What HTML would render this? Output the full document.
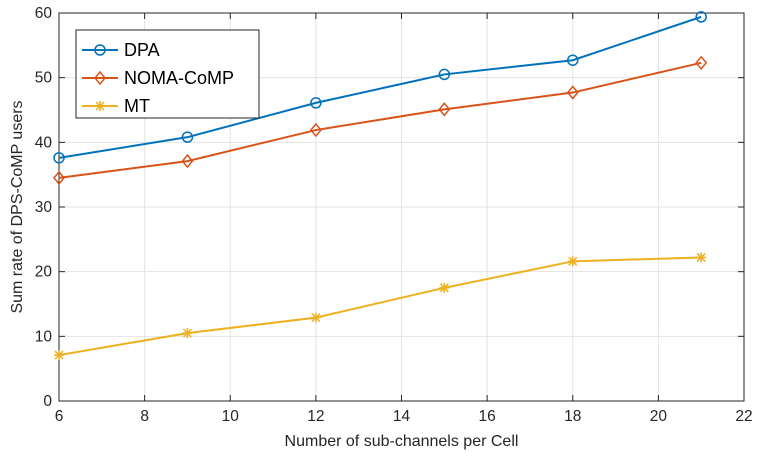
<!DOCTYPE html>
<html><head><meta charset="utf-8"><style>body{margin:0;background:#fff}svg{display:block;font-family:"Liberation Sans",sans-serif}</style></head>
<body>
<svg id="c" width="759" height="460"></svg>
<script>
const xTicks=[6,8,10,12,14,16,18,20,22];
const yTicks=[0,10,20,30,40,50,60];
const xs=[6,9,12,15,18,21];
const dpa=[37.6,40.8,46.1,50.5,52.7,59.4];
const noma=[34.5,37.1,41.9,45.1,47.7,52.3];
const mt=[7.1,10.5,12.9,17.5,21.6,22.2];
const L=59,R=744,T=13,B=401;
const sx=v=>L+(v-6)/(22-6)*(R-L);
const sy=v=>B-v/60*(B-T);
const svg=document.getElementById('c');const NS='http://www.w3.org/2000/svg';
function el(t,a,p){const e=document.createElementNS(NS,t);for(const k in a)e.setAttribute(k,a[k]);(p||svg).appendChild(e);return e;}
let g=el('g',{});


xTicks.forEach(v=>{el('line',{x1:sx(v),x2:sx(v),y1:T,y2:B,stroke:'#e3e3e3'},g);
 const t=el('text',{x:sx(v),y:B+20,'text-anchor':'middle','font-size':15.5,fill:'#262626'});t.textContent=v;
 
 
 el('line',{x1:sx(v),x2:sx(v),y1:B,y2:B-6,stroke:'#262626'});el('line',{x1:sx(v),x2:sx(v),y1:T,y2:T+6,stroke:'#262626'});});
yTicks.forEach(v=>{el('line',{x1:L,x2:R,y1:sy(v),y2:sy(v),stroke:'#e3e3e3'},g);
 const t=el('text',{x:L-7,y:sy(v)+5,'text-anchor':'end','font-size':15.5,fill:'#262626'});t.textContent=v;
 
 
 el('line',{x1:L,x2:L+6,y1:sy(v),y2:sy(v),stroke:'#262626'});el('line',{x1:R,x2:R-6,y1:sy(v),y2:sy(v),stroke:'#262626'});});
const ax=el('rect',{x:L,y:T,width:R-L,height:B-T,fill:'none',stroke:'#262626','stroke-width':1});


let t=el('text',{x:(L+R)/2,y:446,'text-anchor':'middle','font-size':16,fill:'#262626'});t.textContent='Number of sub-channels per Cell';


t=el('text',{x:0,y:0,transform:`translate(22,${(T+B)/2}) rotate(-90)`,'text-anchor':'middle','font-size':16,fill:'#262626'});t.textContent='Sum rate of DPS-CoMP users';


function marker(type,x,y,c,p){
 if(type==='o')el('circle',{cx:x,cy:y,r:5,fill:'none',stroke:c,'stroke-width':1.5},p);
 else if(type==='d')el('polygon',{points:`${x},${y-6} ${x+5},${y} ${x},${y+6} ${x-5},${y}`,fill:'none',stroke:c,'stroke-width':1.5},p);
 else{[[0,-5,0,5],[-5,0,5,0],[-4,-4,4,4],[-4,4,4,-4]].forEach(d=>el('line',{x1:x+d[0],y1:y+d[1],x2:x+d[2],y2:y+d[3],stroke:c,'stroke-width':1.5},p));}
}
const series=[['dpa',dpa,'#0072bd','o','DPA'],['noma-comp',noma,'#d95319','d','NOMA-CoMP'],['mt',mt,'#edb120','*','MT']];
series.forEach(s=>{const gg=el('g',{});
 
 
 el('polyline',{points:xs.map((x,i)=>sx(x)+','+sy(s[1][i])).join(' '),fill:'none',stroke:s[2],'stroke-width':2},gg);
 xs.forEach((x,i)=>marker(s[3],sx(x),sy(s[1][i]),s[2],gg));});
const lg=el('g',{});


el('rect',{x:76,y:30,width:183,height:88,fill:'#fff',stroke:'#262626'},lg);
series.forEach((s,i)=>{const y=50+i*28;const e=el('g',{},lg);
 
 
 el('line',{x1:82,x2:118,y1:y,y2:y,stroke:s[2],'stroke-width':2},e);marker(s[3],100,y,s[2],e);
 const tt=el('text',{x:124,y:y+6,'font-size':18,fill:'#000'},e);tt.textContent=s[4];});
</script>
</body></html>
